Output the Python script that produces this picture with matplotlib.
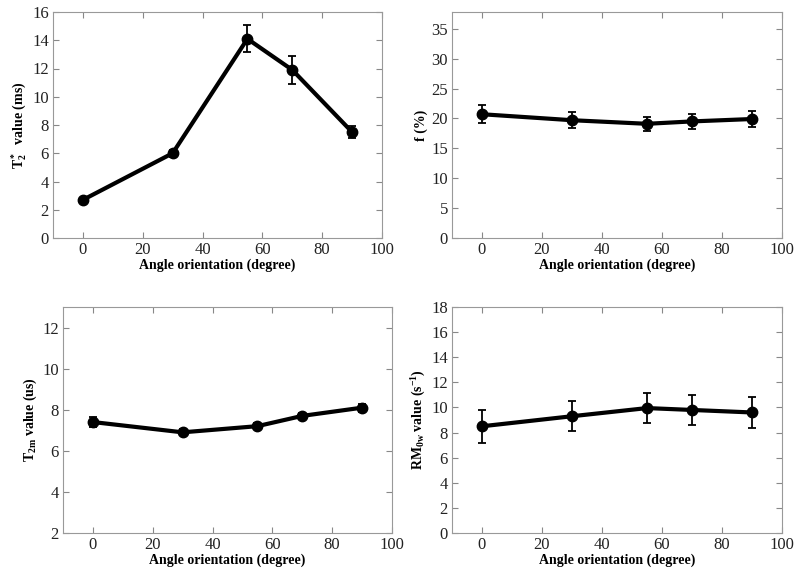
import matplotlib
matplotlib.use('Agg')
import matplotlib.pyplot as plt

plt.rcParams['font.family'] = ['Liberation Serif', 'DejaVu Serif']
plt.rcParams['mathtext.fontset'] = 'custom'
plt.rcParams['mathtext.rm'] = 'Liberation Serif:bold'
plt.rcParams['mathtext.bf'] = 'Liberation Serif:bold'
plt.rcParams['mathtext.it'] = 'Liberation Serif:bold'

angle = [0, 30, 55, 70, 90]

t2star = [2.7, 6.0, 14.1, 11.9, 7.5]
t2star_err = [0.15, 0.25, 0.95, 1.0, 0.4]

f_pct = [20.7, 19.7, 19.1, 19.5, 19.9]
f_err = [1.5, 1.3, 1.2, 1.2, 1.3]

t2m = [7.4, 6.9, 7.2, 7.7, 8.1]
t2m_err = [0.25, 0.15, 0.15, 0.15, 0.2]

rm0w = [8.5, 9.3, 9.95, 9.8, 9.6]
rm0w_err = [1.3, 1.2, 1.2, 1.2, 1.2]

W, H = 800, 575
fig = plt.figure(figsize=(8, 5.75), dpi=100)


def make_ax(l, t, r, b):
    return fig.add_axes([l / W, 1 - b / H, (r - l) / W, (b - t) / H])


panels = [
    (make_ax(53, 12, 382, 238), t2star, t2star_err, (0, 16), range(0, 17, 2),
     r'$\mathrm{T_2^*}$  value (ms)'),
    (make_ax(452, 12, 782, 238), f_pct, f_err, (0, 37.8), range(0, 36, 5),
     'f (%)'),
    (make_ax(63, 307, 392, 533), t2m, t2m_err, (2, 13), range(2, 13, 2),
     r'$\mathrm{T_{2m}}$ value (us)'),
    (make_ax(452, 307, 782, 533), rm0w, rm0w_err, (0, 18), range(0, 19, 2),
     r'$\mathrm{RM_{0w}}$ value (s$^{\mathrm{-1}}$)'),
]

for ax, y, e, ylim, yt, ylab in panels:
    ax.errorbar(angle, y, yerr=e, color='black', lw=3, marker='o', ms=7.5,
                capsize=3, elinewidth=1.3, capthick=1.3)
    ax.set_xlim(-10, 100)
    ax.set_ylim(*ylim)
    ax.set_xticks(range(0, 101, 20))
    ax.set_yticks(list(yt))
    ax.tick_params(direction='in', top=True, right=True, labelsize=12,
                   color='#888888', labelcolor='#222222', length=4, pad=3)
    for s in ax.spines.values():
        s.set_color('#999999')
    ax.set_xlabel('Angle orientation (degree)', fontsize=10, fontweight='bold',
                  labelpad=0)
    ax.set_ylabel(ylab, fontsize=10, fontweight='bold', labelpad=2)

fig.savefig('out.png', dpi=100)
